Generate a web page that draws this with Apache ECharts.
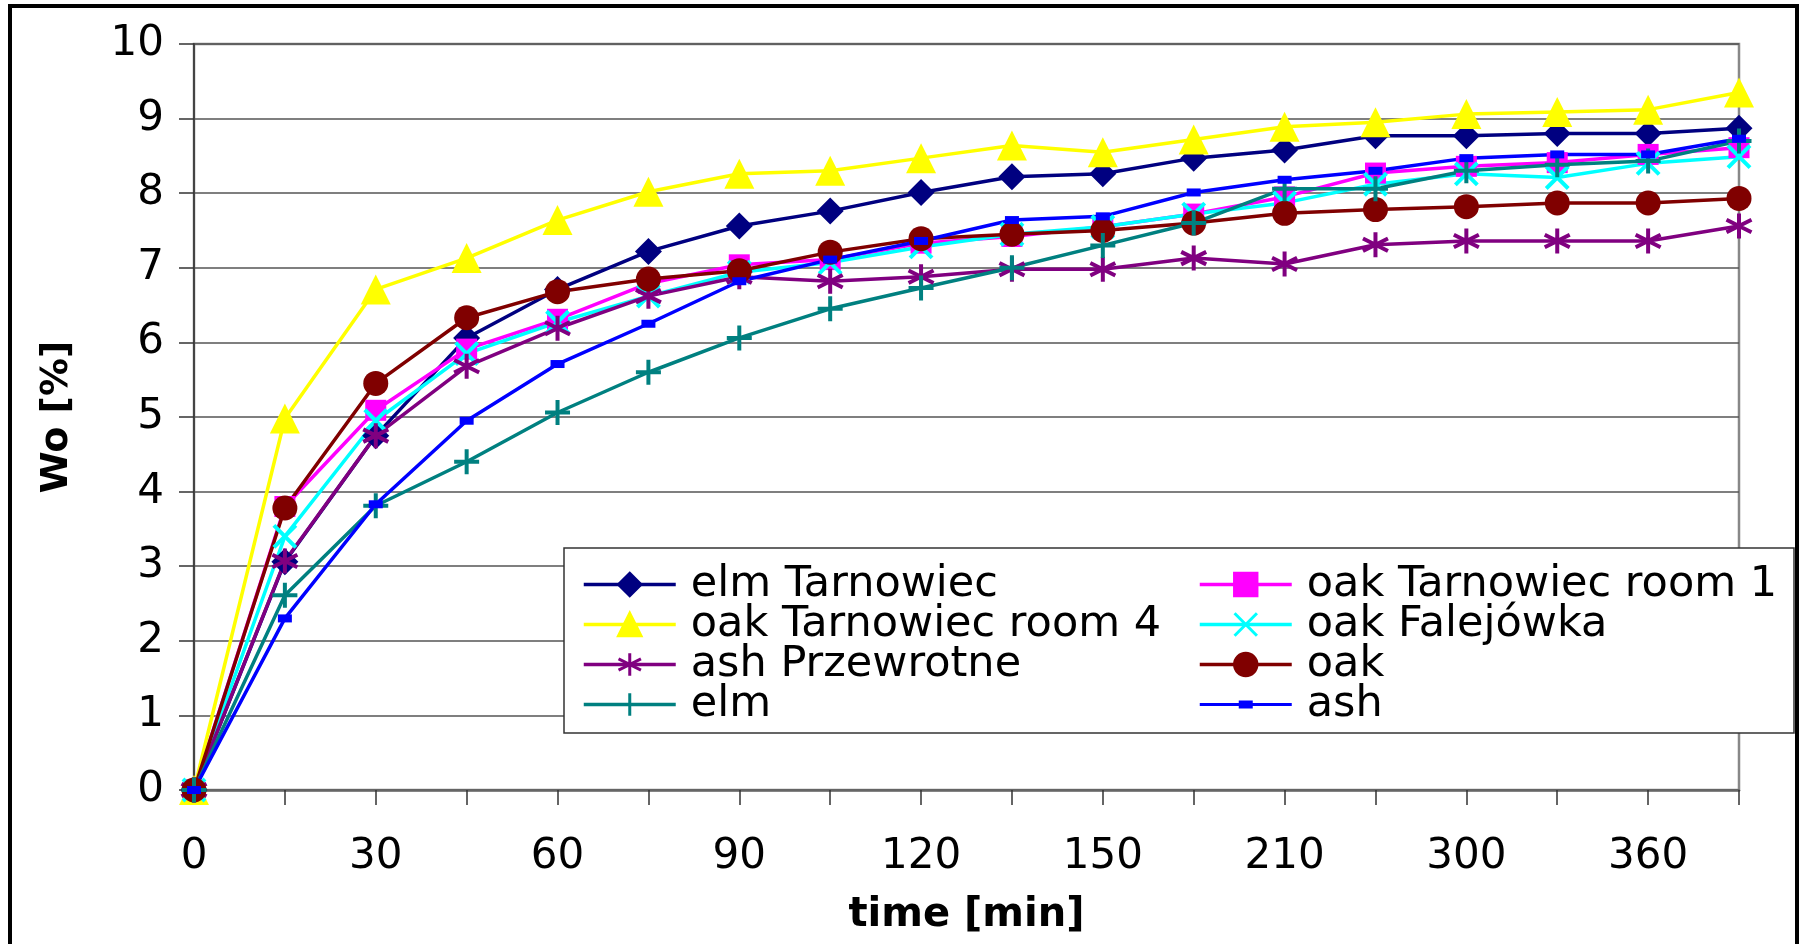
<!DOCTYPE html>
<html>
<head>
<meta charset="utf-8">
<script src="https://cdn.jsdelivr.net/npm/echarts@6/dist/echarts.min.js"></script>
<style>html,body{margin:0;padding:0;background:#fff}#c{width:1806px;height:944px}</style>
</head>
<body>
<div id="c"></div>
<script>
var categories = ['0','15','30','45','60','75','90','105','120','135','150','180','210','240','300','330','360','420'];
var yTicks = [0,1,2,3,4,5,6,7,8,9,10];
var elmTarnowiec = [0,3.06,4.75,6.06,6.71,7.22,7.56,7.76,8.01,8.22,8.26,8.47,8.58,8.77,8.77,8.80,8.80,8.87];
var oakTarnowiecRoom1 = [0,3.80,5.09,5.91,6.31,6.79,7.04,7.11,7.33,7.42,7.55,7.72,7.95,8.27,8.36,8.41,8.52,8.61];
var oakTarnowiecRoom4 = [0,4.98,6.71,7.13,7.64,8.02,8.26,8.30,8.47,8.64,8.55,8.72,8.89,8.95,9.06,9.09,9.12,9.35];
var oakFalejowka = [0,3.40,4.95,5.85,6.27,6.62,6.94,7.07,7.28,7.45,7.55,7.72,7.87,8.12,8.26,8.21,8.40,8.49];
var ashPrzewrotne = [0,3.07,4.75,5.68,6.19,6.62,6.88,6.82,6.88,6.98,6.98,7.13,7.05,7.31,7.36,7.36,7.36,7.56];
var oak = [0,3.78,5.45,6.33,6.68,6.85,6.96,7.21,7.39,7.45,7.50,7.60,7.73,7.78,7.82,7.87,7.87,7.93];
var elm = [0,2.61,3.81,4.40,5.06,5.60,6.06,6.45,6.73,7.00,7.30,7.60,8.06,8.06,8.30,8.38,8.43,8.70];
var ash = [0,2.30,3.83,4.95,5.71,6.25,6.82,7.11,7.36,7.64,7.69,8.01,8.18,8.30,8.47,8.52,8.52,8.73];

var FONT = 'DejaVu Sans';
var P_X = 'path://M0 0L10 10M10 0L0 10';
var P_PLUS = 'path://M5 0L5 10M0 5L10 5';
var P_AST = 'path://M5 0L5 10M0.7 2.5L9.3 7.5M0.7 7.5L9.3 2.5';
var ASH_ICON = 'path://M0 2.5H92V5.5H0Z M39 0H53V8H39Z';

function mk(name, data, color, symbol, size, stroke) {
  return {
    name: name, type: 'line', data: data, symbol: symbol, symbolSize: size,
    lineStyle: { color: color, width: 3.5 },
    itemStyle: { color: color, borderColor: color, borderWidth: stroke ? 4 : 0 },
    emphasis: { disabled: true }, animation: false, z: 2
  };
}

var series = [
  mk('elm Tarnowiec', elmTarnowiec, '#000080', 'diamond', 27, false),
  mk('oak Tarnowiec room 1', oakTarnowiecRoom1, '#FF00FF', 'rect', 21, false),
  mk('oak Tarnowiec room 4', oakTarnowiecRoom4, '#FFFF00', 'triangle', 30, false),
  mk('oak Falejówka', oakFalejowka, '#00FFFF', P_X, 22, true),
  mk('ash Przewrotne', ashPrzewrotne, '#800080', P_AST, 25, true),
  mk('oak', oak, '#800000', 'circle', 25, false),
  mk('elm', elm, '#008080', P_PLUS, 25, true),
  mk('ash', ash, '#0000FF', 'rect', [14, 8], false)
];

var legendText = { fontFamily: FONT, fontSize: 43, color: '#000', lineHeight: 37.5, padding: [0, 0, 0, 10] };
function legend(left, names) {
  return {
    orient: 'vertical', left: left, top: 563, itemGap: -3, itemWidth: 92, itemHeight: 28,
    data: names, textStyle: legendText, selectedMode: false, padding: 0, z: 10,
    lineStyle: { width: 3.5 },
    itemStyle: { borderWidth: 3 }
  };
}

var chart = echarts.init(document.getElementById('c'), null, { renderer: 'canvas' });
chart.setOption({
  backgroundColor: '#fff',
  animation: false,
  grid: { left: 194, top: 44, width: 1545, height: 746, show: true, borderColor: '#888', borderWidth: 2.5, backgroundColor: 'transparent' },
  xAxis: {
    type: 'category', data: categories, boundaryGap: false,
    name: 'time [min]', nameLocation: 'middle', nameGap: 106,
    nameTextStyle: { fontFamily: FONT, fontSize: 40, fontWeight: 'bold', color: '#000' },
    axisLine: { lineStyle: { color: '#666', width: 2.5 } },
    axisTick: { show: true, length: 15, interval: 0, alignWithLabel: true, lineStyle: { color: '#333', width: 1.5 } },
    axisLabel: { interval: 1, margin: 46, fontFamily: FONT, fontSize: 42, color: '#000' },
    splitLine: { show: false }
  },
  yAxis: {
    type: 'value', min: yTicks[0], max: yTicks[yTicks.length - 1], interval: 1,
    name: 'Wo [%]', nameLocation: 'middle', nameGap: 118,
    nameTextStyle: { fontFamily: FONT, fontSize: 38, fontWeight: 'bold', color: '#000' },
    axisLine: { show: true, lineStyle: { color: '#444', width: 2 } },
    axisTick: { show: true, length: 15, lineStyle: { color: '#333', width: 1.5 } },
    axisLabel: { margin: 30, fontFamily: FONT, fontSize: 42, color: '#000' },
    splitLine: { show: true, lineStyle: { color: '#555', width: 1.5 } }
  },
  legend: [
    legend(582, ['elm Tarnowiec', 'oak Tarnowiec room 4', 'ash Przewrotne', 'elm']),
    legend(1198, ['oak Tarnowiec room 1', 'oak Falejówka', 'oak', { name: 'ash', icon: ASH_ICON, itemStyle: { borderWidth: 0 } }])
  ],
  graphic: [
    { type: 'rect', shape: { x: 564, y: 548, width: 1230, height: 185 }, style: { fill: '#fff', stroke: '#333', lineWidth: 1.5 }, z: 3, silent: true },
    { type: 'rect', shape: { x: 10, y: 6, width: 1787, height: 960 }, style: { fill: 'none', stroke: '#000', lineWidth: 4 }, z: 0, silent: true }
  ],
  series: series
});
</script>
</body>
</html>
